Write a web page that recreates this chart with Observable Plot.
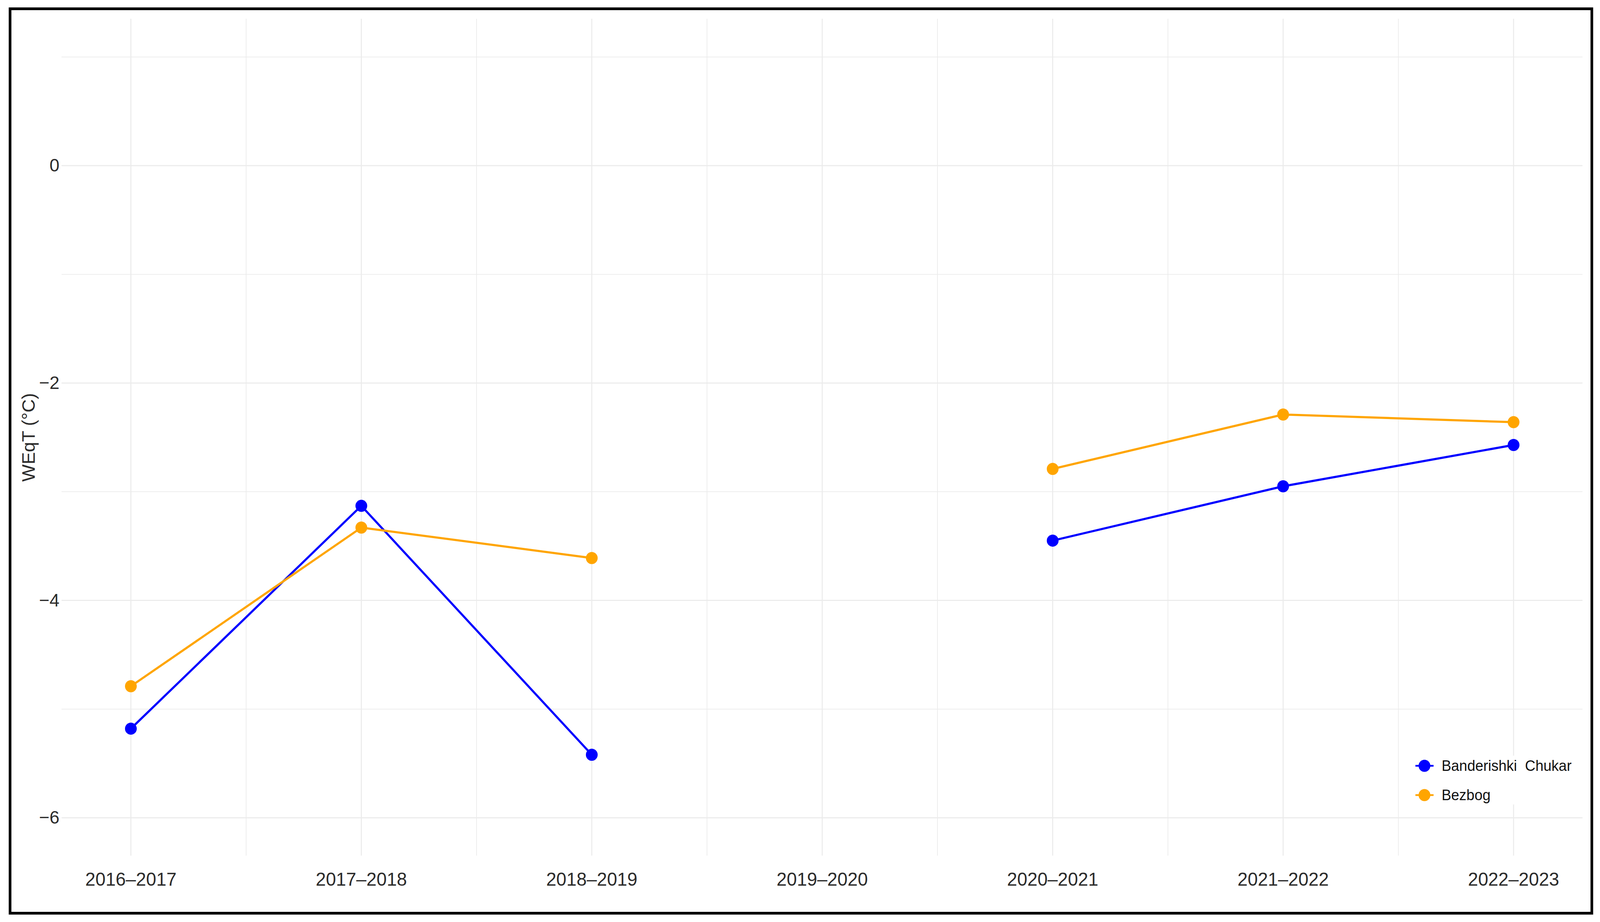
<!DOCTYPE html>
<html>
<head>
<meta charset="utf-8">
<script src="https://cdn.jsdelivr.net/npm/d3@7"></script>
<script src="https://cdn.jsdelivr.net/npm/@observablehq/plot@0.6"></script>
<style>
  html, body { margin: 0; padding: 0; background: #fff; overflow: hidden; }
  body { font-family: "Liberation Sans", Arial, sans-serif; }
  #page { position: absolute; left: 0; top: 0; width: 4211px; height: 2361px; transform-origin: 0 0; background: #fff; }
  #chart { position: absolute; left: 0; top: 0; }
  #frame { position: absolute; left: 23px; top: 19px; width: 4170px; height: 2323px; box-sizing: border-box; border: 7px solid #000; pointer-events: none; }
  #legend { position: absolute; left: 3722px; top: 1935px; width: 420px; height: 125px; background: #fff; }
  .item { position: absolute; left: 3px; height: 40px; display: flex; align-items: center; }
  .item span { margin-left: 21px; font-size: 38px; line-height: 40px; color: #111; white-space: pre; }
</style>
</head>
<body>
<div id="page">
  <div id="chart"></div>
  <div id="frame"></div>
  <div id="legend"></div>
</div>
<script>
// ---- data ----
const seasons = ["2016–2017", "2017–2018", "2018–2019", "2019–2020", "2020–2021", "2021–2022", "2022–2023"];
const chukar = [-5.18, -3.13, -5.42, null, -3.45, -2.95, -2.57];
const bezbog = [-4.79, -3.33, -3.61, null, -2.79, -2.29, -2.36];
const seriesNames = ["Banderishki  Chukar", "Bezbog"];
const seriesColors = ["#0000FF", "#FFA500"];
const yTicks = [0, -2, -4, -6];
const yMinor = [1, -1, -3, -5];
const yLabel = "WEqT (°C)";

const seriesValues = [chukar, bezbog];
const rows = seasons.flatMap((s, i) =>
  seriesNames.map((name, k) => ({ i, season: s, series: name, value: seriesValues[k][i] }))
);
const idx = d3.range(seasons.length);
const mids = d3.range(seasons.length - 1).map(i => i + 0.5);
const fmt = d => (d < 0 ? "\u2212" + Math.abs(d) : String(d));

const W = 4211, H = 2361;
const grid = "#ebebeb";
const chart = Plot.plot({
  width: W,
  height: H,
  marginLeft: 162,
  marginRight: 46,
  marginTop: 48,
  marginBottom: 170,
  style: { fontFamily: "'Liberation Sans', Arial, sans-serif", background: "transparent", overflow: "visible", maxWidth: "none" },
  x: { type: "linear", domain: [-0.3, 6.3] },
  y: { domain: [-6.35, 1.35] },
  color: { domain: seriesNames, range: seriesColors },
  marks: [
    Plot.gridY(yMinor, { stroke: grid, strokeOpacity: 1, strokeWidth: 1.8 }),
    Plot.gridY(yTicks, { stroke: grid, strokeOpacity: 1, strokeWidth: 2.8 }),
    Plot.gridX(mids, { stroke: grid, strokeOpacity: 1, strokeWidth: 1.8 }),
    Plot.gridX(idx, { stroke: grid, strokeOpacity: 1, strokeWidth: 2.8 }),
    Plot.axisY(yTicks, {
      tickSize: 0, tickPadding: 6, fontSize: 47, fill: "#2b2b2b",
      tickFormat: fmt, label: yLabel, labelAnchor: "center", labelOffset: 104, labelArrow: "none"
    }),
    Plot.axisX(idx, {
      tickSize: 0, tickPadding: 42, fontSize: 48, fill: "#2b2b2b",
      tickFormat: i => seasons[i], label: null
    }),
    Plot.line(rows, { x: "i", y: "value", z: "series", stroke: "series", strokeWidth: 5.5 }),
    Plot.dot(rows, { x: "i", y: "value", fill: "series", r: 15.5 })
  ]
});
document.getElementById("chart").appendChild(chart);

// ---- legend (inside panel, bottom-right) ----
const legend = document.getElementById("legend");
const centers = [26, 101];
seriesNames.forEach((name, k) => {
  const item = document.createElement("div");
  item.className = "item";
  item.style.top = (centers[k] - 20) + "px";
  item.innerHTML =
    `<svg width="48" height="40"><line x1="0" x2="48" y1="20" y2="20" stroke="${seriesColors[k]}" stroke-width="4.5"/>` +
    `<circle cx="24" cy="20" r="15.5" fill="${seriesColors[k]}"/></svg><span></span>`;
  item.querySelector("span").textContent = name;
  legend.appendChild(item);
});

// ---- fit the 4211x2361 page to the whole viewport ----
function fit() {
  const sx = window.innerWidth / W, sy = window.innerHeight / H;
  document.getElementById("page").style.transform = `scale(${sx}, ${sy})`;
}
fit();
window.addEventListener("resize", fit);
</script>
</body>
</html>
